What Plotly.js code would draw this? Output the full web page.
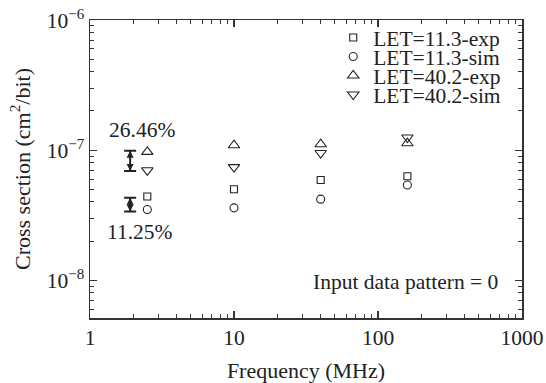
<!DOCTYPE html>
<html>
<head>
<meta charset="utf-8">
<script src="https://cdn.plot.ly/plotly-3.0.1.min.js"></script>
<style>html,body{margin:0;padding:0;background:#fff;}#chart{width:546px;height:383px;}</style>
</head>
<body>
<div id="chart"></div>
<script>
// Data
const freq = [2.5, 10, 40, 160];                       // MHz
const let113Exp = [4.4e-8, 5.0e-8, 5.9e-8, 6.3e-8];
const let113Sim = [3.5e-8, 3.6e-8, 4.2e-8, 5.4e-8];
const let402Exp = [9.7e-8, 1.09e-7, 1.11e-7, 1.13e-7];
const let402Sim = [7.0e-8, 7.4e-8, 9.5e-8, 1.25e-7];
const seriesNames = ['LET=11.3-exp', 'LET=11.3-sim', 'LET=40.2-exp', 'LET=40.2-sim'];

// Difference brackets
const bracketFreq = [1.9, 1.9];
const bracketTop = [9.9e-8, 4.3e-8];
const bracketBottom = [6.9e-8, 3.37e-8];
const bracketLabels = ['26.46%', '11.25%'];

// Axis ticks
const xTickVals = [1, 10, 100, 1000];
const xTickText = ['1', '10', '100', '1000'];
const yTickVals = [1e-8, 1e-7, 1e-6];
const yTickText = ['10<sup>−8</sup>', '10<sup>−7</sup>', '10<sup>−6</sup>'];

const FONT = 'Liberation Serif, Times New Roman, serif';
const INK = '#222';
const FS = 21.5;

function series(name, y, symbol, size, legend) {
  return {
    type: 'scatter', mode: 'markers', name: name, x: freq, y: y, legend: legend,
    marker: {symbol: symbol, size: size, color: INK, line: {color: INK, width: 1.1}}
  };
}

const traces = [
  series(seriesNames[0], let113Exp, 'square-open', 7, 'legend'),
  series(seriesNames[1], let113Sim, 'circle-open', 8, 'legend2'),
  series(seriesNames[2], let402Exp, 'triangle-up-open', 10, 'legend3'),
  series(seriesNames[3], let402Sim, 'triangle-down-open', 10, 'legend4'),
  {
    type: 'scatter', mode: 'markers', x: bracketFreq, y: bracketTop, showlegend: false,
    marker: {symbol: 'arrow-up', size: 7, color: INK},
    error_y: {type: 'data', symmetric: false, array: [0, 0],
      arrayminus: bracketTop.map((t, i) => t - bracketBottom[i]),
      color: INK, thickness: 2, width: 6}
  },
  {
    type: 'scatter', mode: 'markers', x: bracketFreq, y: bracketBottom, showlegend: false,
    marker: {symbol: 'arrow-down', size: 7, color: INK}
  }
];

const plotTop = 20, plotBottom = 318;
function py(px) { return (plotBottom - px) / (plotBottom - plotTop); }
const legendRows = [37.5, 56.5, 75.5, 94.5];
function legendAt(px) {
  return {x: 0.563, xanchor: 'left', y: py(px), yanchor: 'middle',
    bgcolor: 'rgba(0,0,0,0)', borderwidth: 0,
    font: {family: FONT, size: FS, color: INK}};
}

const axisCommon = {
  type: 'log', showgrid: false, zeroline: false, showline: true, linecolor: '#333', linewidth: 1.5,
  mirror: 'allticks', ticks: 'inside', ticklen: 7, tickwidth: 1.2, tickcolor: '#333',
  tickmode: 'array', tickfont: {family: FONT, size: FS, color: INK},
  minor: {ticks: 'inside', ticklen: 4, tickwidth: 1, tickcolor: '#333', dtick: 'D1', showgrid: false}
};

const layout = {
  width: 546, height: 383,
  margin: {l: 90, r: 24, t: 20, b: 65},
  paper_bgcolor: '#fff', plot_bgcolor: '#fff',
  font: {family: FONT, size: FS, color: INK},
  xaxis: Object.assign({}, axisCommon, {
    range: [0, 3], tickvals: xTickVals, ticktext: xTickText,
    title: {text: 'Frequency (MHz)', font: {family: FONT, size: 22, color: INK}, standoff: 16}
  }),
  yaxis: Object.assign({}, axisCommon, {
    range: [-8.29, -6], tickvals: yTickVals, ticktext: yTickText,
    title: {text: 'Cross section (cm<sup>2</sup>/bit)', font: {family: FONT, size: 22, color: INK}, standoff: 10}
  }),
  legend: legendAt(legendRows[0]),
  legend2: legendAt(legendRows[1]),
  legend3: legendAt(legendRows[2]),
  legend4: legendAt(legendRows[3]),
  annotations: [
    {x: Math.log10(2.28), y: -6.846, xref: 'x', yref: 'y', text: bracketLabels[0], showarrow: false,
      font: {family: FONT, size: FS, color: INK}},
    {x: Math.log10(2.22), y: -7.631, xref: 'x', yref: 'y', text: bracketLabels[1], showarrow: false,
      font: {family: FONT, size: FS, color: INK}},
    {x: 2.191, y: -8.013, xref: 'x', yref: 'y', text: 'Input data pattern = 0', showarrow: false,
      font: {family: FONT, size: FS, color: INK}}
  ]
};

Plotly.newPlot('chart', traces, layout, {displayModeBar: false, staticPlot: true});
</script>
</body>
</html>
